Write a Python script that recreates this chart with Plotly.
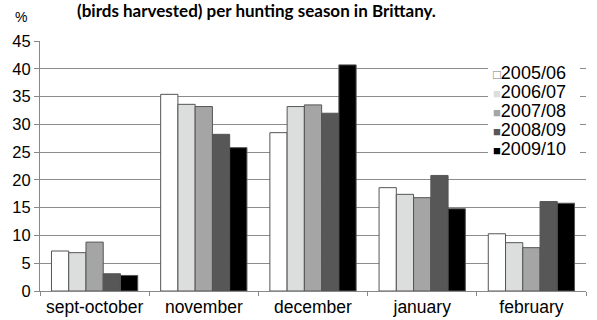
import plotly.graph_objects as go

months = ["sept-october", "november", "december", "january", "february"]
seasons = ["2005/06", "2006/07", "2007/08", "2008/09", "2009/10"]
s2005 = [7.2, 35.4, 28.5, 18.6, 10.3]
s2006 = [6.9, 33.6, 33.2, 17.4, 8.7]
s2007 = [8.8, 33.2, 33.5, 16.8, 7.8]
s2008 = [3.1, 28.2, 32.0, 20.8, 16.1]
s2009 = [2.8, 25.8, 40.7, 14.8, 15.8]
values = [s2005, s2006, s2007, s2008, s2009]
colors = ["#ffffff", "#dcdddd", "#a5a5a5", "#575757", "#000000"]

# plot area in pixels
L, R, T, B = 40, 11, 41, 29
W, H = 597, 320
PW, PH = W - L - R, H - T - B


def px(x):
    return (x - L) / PW


def py(y):
    return (H - B - y) / PH


fig = go.Figure()
for name, vals, col in zip(seasons, values, colors):
    fig.add_trace(go.Bar(x=months, y=vals, name=name, showlegend=False,
                         marker=dict(color=col, line=dict(color="#555", width=1))))

# legend entries: small square glyph right next to the label, like the original
for name, col in zip(seasons, colors):
    glyph = "□" if col == "#ffffff" else "■"
    gcol = "#777777" if col == "#ffffff" else col
    label = (f"<span style='font-size:13px;color:{gcol}'>{glyph}</span>"
             f"<span style='font-size:18px'>{name}</span>")
    fig.add_trace(go.Scatter(x=[None], y=[None], mode="lines", line=dict(width=0),
                             name=label, showlegend=True, hoverinfo="skip"))

fig.update_layout(
    width=W, height=H,
    margin=dict(l=L, r=R, t=T, b=B, autoexpand=False),
    paper_bgcolor="white", plot_bgcolor="white",
    barmode="group", bargap=0.21, bargroupgap=0,
    font=dict(family="Liberation Sans, Arial", size=15, color="#000"),
    showlegend=True,
    legend=dict(x=px(453), y=py(59.5), xanchor="left", yanchor="top",
                bgcolor="rgba(0,0,0,0)", font=dict(size=12), tracegroupgap=0,
                itemwidth=30, borderwidth=0),
)
fig.update_xaxes(showline=True, linecolor="#888", linewidth=1, automargin=False,
                 ticks="outside", tickson="boundaries", ticklen=4, tickcolor="#888",
                 showgrid=False, tickfont=dict(size=17.5))
fig.update_yaxes(range=[0, 45], dtick=5, showline=True, linecolor="#888", linewidth=1,
                 ticks="outside", ticklen=5, tickcolor="#888", automargin=False,
                 gridcolor="#8c8c8c", gridwidth=1, zeroline=False,
                 tickfont=dict(size=16.5))

# white box behind the legend, hiding the gridlines there
fig.add_shape(type="rect", xref="paper", yref="paper",
              x0=px(488), x1=px(580), y0=py(158), y1=py(63),
              fillcolor="white", line=dict(width=0), layer="above")

fig.add_annotation(text="<b>(birds harvested) per hunting season in Brittany.</b>",
                   xref="paper", yref="paper", x=px(256), y=py(11),
                   xanchor="center", yanchor="middle",
                   showarrow=False, font=dict(family="Lato", size=17, color="#000"))
fig.add_annotation(text="%", xref="paper", yref="paper", x=px(21), y=py(17.5),
                   xanchor="center", yanchor="middle",
                   showarrow=False, font=dict(size=14, color="#000"))

# drop the page's default body margin so the chart sits at the window corner
fig.write_html("out.html", config={"displayModeBar": False},
               post_script="document.body.style.margin='0';")
